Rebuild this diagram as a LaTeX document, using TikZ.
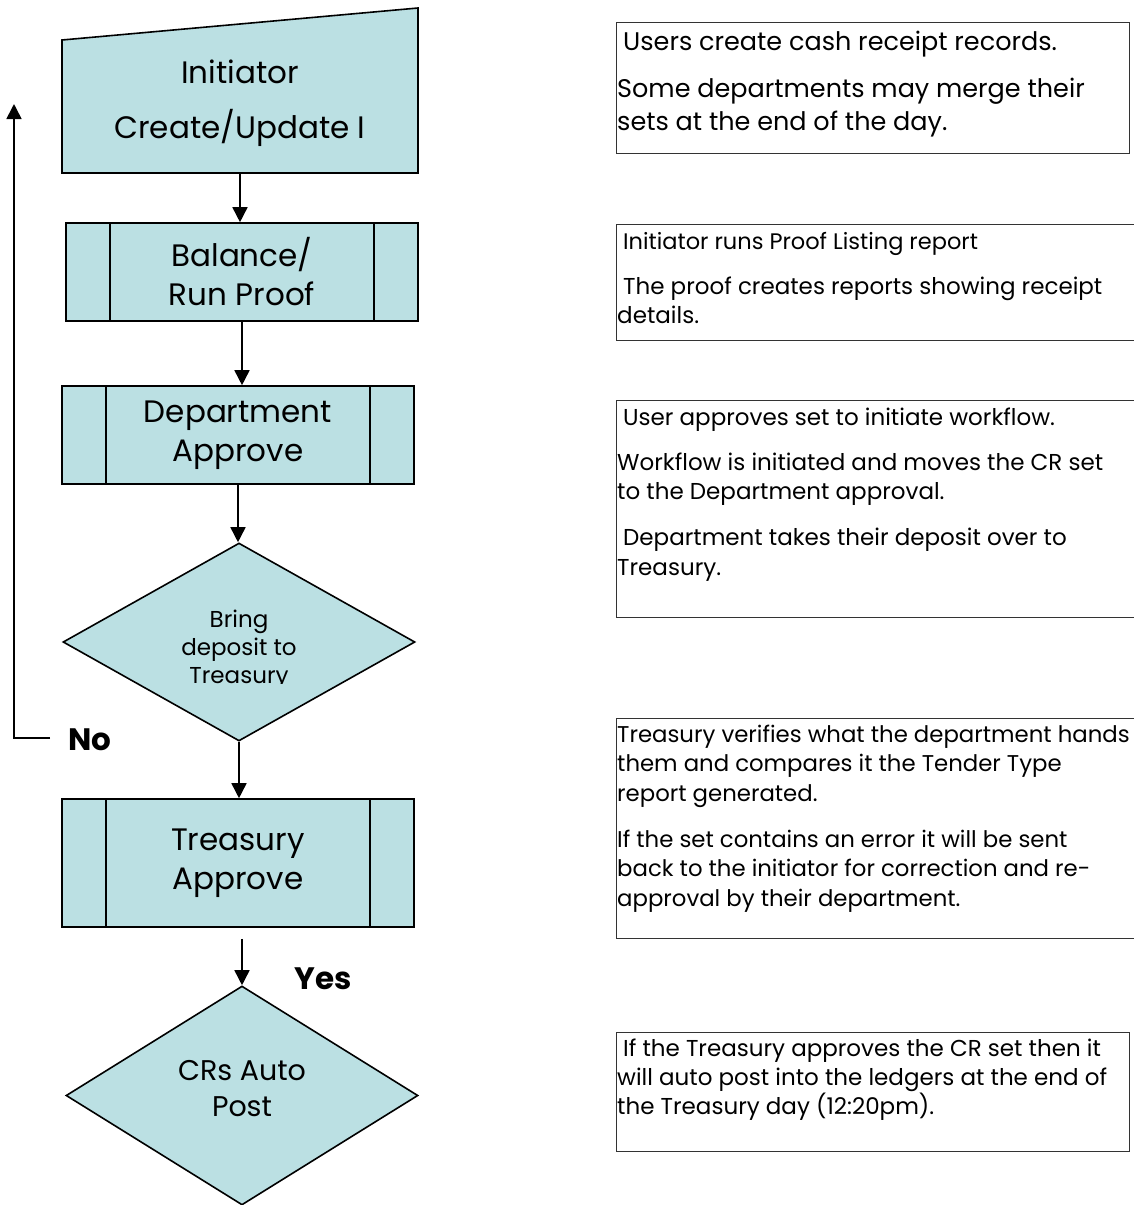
\documentclass[tikz,border=0pt]{standalone}
\usepackage{fontspec}
\setmainfont{Poppins}
\usetikzlibrary{arrows.meta,shapes.geometric,calc}
\definecolor{shapefill}{HTML}{BBE0E3}
\definecolor{notedraw}{HTML}{333333}
\begin{document}
\begin{tikzpicture}[x=1pt,y=-1pt,
  shapeline/.style={draw=black, line width=1.6pt, fill=shapefill},
  procbox/.style={shapeline, rectangle, minimum width=352pt, minimum height=98pt, inner sep=0pt,
    align=center, font=\fontsize{31}{39}\selectfont,
    path picture={
      \draw[line width=1.6pt] ([xshift=44pt]path picture bounding box.north west) -- ([xshift=44pt]path picture bounding box.south west);
      \draw[line width=1.6pt] ([xshift=-44pt]path picture bounding box.north east) -- ([xshift=-44pt]path picture bounding box.south east);}},
  dia/.style={shapeline, diamond, inner sep=0pt},
  shapetext/.style={align=center, inner sep=0pt},
  arr/.style={draw=black, line width=1.6pt, -{Triangle[length=15pt,width=15pt]}},
  lbl/.style={font=\fontsize{31}{36}\selectfont\bfseries, inner sep=0pt},
  notebox/.style={draw=notedraw, line width=1.3pt, rectangle, anchor=north west, inner sep=0pt},
  notetext/.style={align=left, anchor=base west, inner sep=0pt},
]
\useasboundingbox (0,0) rectangle (1134,1205);
\clip (0,0) rectangle (1134,1205);

% Initiator (manual input shape)
\draw[shapeline] (62,40) -- (418,8) -- (418,173) -- (62,173) -- cycle;
\node[rectangle, minimum width=356pt, minimum height=133pt, inner sep=0pt] (init) at (240,106.5) {};
\node[shapetext, font=\fontsize{31}{55}\selectfont] (initt) at (240,103) {Initiator\\Create/Update I};

% Process boxes
\node[procbox] (bal) at (242,272) {Balance/\\Run Proof};
\node[procbox] (dep) at (238,435) {Department\\Approve};
\node[procbox, minimum height=128pt] (tre) at (238,863) {Treasury\\Approve};

% Decisions
\node[dia, minimum width=352pt, minimum height=198pt] (d1) at (239,642) {};
\begin{scope}
  \clip (100,590) rectangle (380,683);
  \node[shapetext, font=\fontsize{23}{28}\selectfont] (d1t) at (239,650) {Bring\\deposit to\\Treasury};
\end{scope}
\node[dia, minimum width=352pt, minimum height=219pt] (d2) at (242,1095.5) {};
\node[shapetext, font=\fontsize{28.5}{36}\selectfont] (d2t) at (242,1089) {CRs Auto\\Post};

% Connectors
\draw[arr] (init.south) -- (init.south |- bal.north);
\draw[arr] (bal.south) -- (bal.south |- dep.north);
\draw[arr] (dep.south) -- (dep.south |- d1.north);
\draw[arr] (d1.south) -- (d1.south |- tre.north);
\coordinate (t2) at ($(tre.south)+(4,11)$);
\draw[arr] (t2) -- (t2 |- d2.north);
\coordinate (nostart) at (50,738);
\coordinate (noend) at (14,104);
\draw[arr] (nostart) -| (noend);

\node[lbl] (no) at (90,740) {No};
\node[lbl] (yes) at (323,979) {Yes};

% Notes (text nodes anchored at the baseline of their last line)
\node[notebox, minimum width=513pt, minimum height=131pt] (b1) at (616,22) {};
\node[notetext, font=\fontsize{25.5}{33}\selectfont] (b1t) at (617,130)
  {\hspace{6pt}Users create cash receipt records.\\[14pt]Some departments may merge their\\sets at the end of the day.};

\node[notebox, minimum width=530pt, minimum height=116pt] (b2) at (616,224) {};
\node[notetext, font=\fontsize{22.5}{29}\selectfont] (b2ta) at (617,249)
  {\hspace{6pt}Initiator runs Proof Listing report};
\node[notetext, font=\fontsize{23}{29}\selectfont] (b2tb) at (617,323)
  {\hspace{6pt}The proof creates reports showing receipt\\details.};

\node[notebox, minimum width=530pt, minimum height=217pt] (b3) at (616,400) {};
\node[notetext, font=\fontsize{23}{29.5}\selectfont] (b3t) at (617,575)
  {\hspace{6pt}User approves set to initiate workflow.\\[15.5pt]Workflow is initiated and moves the CR set\\to the Department approval.\\[16.5pt]\hspace{6pt}Department takes their deposit over to\\Treasury.};

\node[notebox, minimum width=530pt, minimum height=220pt] (b4) at (616,718) {};
\node[notetext, font=\fontsize{22.8}{29.5}\selectfont] (b4t) at (617,906)
  {Treasury verifies what the department hands\\them and compares it the Tender Type\\report generated.\\[16.5pt]If the set contains an error it will be sent\\back to the initiator for correction and re-\\approval by their department.};

\node[notebox, minimum width=513pt, minimum height=119pt] (b5) at (616,1032) {};
\node[notetext, font=\fontsize{23}{29}\selectfont] (b5t) at (617,1114)
  {\hspace{6pt}If the Treasury approves the CR set then it\\will auto post into the ledgers at the end of\\the Treasury day (12:20pm).};
\end{tikzpicture}
\end{document}
